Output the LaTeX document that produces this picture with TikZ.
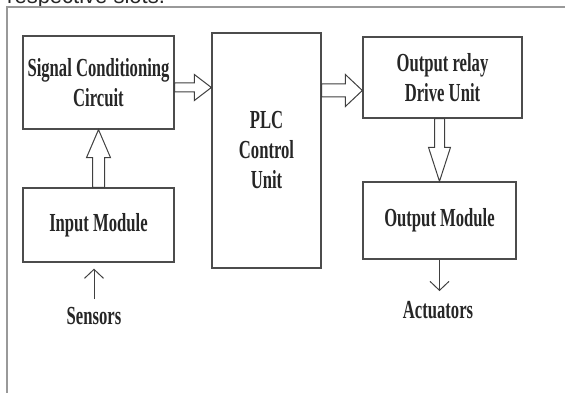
\documentclass[tikz,border=0pt]{standalone}
\usepackage{fontspec}
\setmainfont{Liberation Serif}
\newfontfamily\lblfont{Liberation Serif}[FakeStretch=0.64]
\newfontfamily\capfont{Liberation Sans}
\usetikzlibrary{arrows.meta,calc}

% hollow block arrows: start, tip, shaft half width, head half width, head length
\newcommand{\fatx}[5]{%
  \draw[fatarrow] let \p1=(#1), \p2=(#2) in
    (\x1,{\y2+#3}) -- ({\x2-#5},{\y2+#3}) -- ({\x2-#5},{\y2+#4}) -- (\x2,\y2)
    -- ({\x2-#5},{\y2-#4}) -- ({\x2-#5},{\y2-#3}) -- (\x1,{\y2-#3}) -- cycle;}
\newcommand{\faty}[5]{%
  \draw[fatarrow] let \p1=(#1), \p2=(#2) in
    ({\x2+#3},\y1) -- ({\x2+#3},{\y2-(#5)}) -- ({\x2+#4},{\y2-(#5)}) -- (\x2,\y2)
    -- ({\x2-#4},{\y2-(#5)}) -- ({\x2-#3},{\y2-(#5)}) -- ({\x2-#3},\y1) -- cycle;}

\begin{document}
\begin{tikzpicture}[x=1pt,y=-1pt,
  blk/.style={draw=black!70, line width=1.3pt, rectangle, align=center,
    font=\lblfont\bfseries\fontsize{26}{30}\selectfont, text=black!85},
  lbl/.style={inner sep=0pt, font=\lblfont\bfseries\fontsize{26}{30}\selectfont, text=black!85},
  fatarrow/.style={draw=black!75, fill=white, line width=1pt, line join=miter},
  thin/.style={draw=black!75, line width=1pt, -{Straight Barb[length=9pt,width=19pt]}}]
\useasboundingbox (0,0) rectangle (565,393);

% page edge and cut caption
\node[anchor=base west, inner sep=0pt, font=\capfont\fontsize{22}{26}\selectfont, text=black!85] (caption) at (7,4) {respective slots.};
\draw[black!40, line width=1.2pt] (7,393) -- (7,7) -- (565,7);

% blocks
\node[blk, minimum width=151pt, minimum height=93pt] (sig) at (98.5,82.5) {Signal Conditioning\\Circuit};
\node[blk, minimum width=151pt, minimum height=74pt] (inp) at (98.5,225) {Input Module};
\node[blk, minimum width=109pt, minimum height=235pt] (plc) at (266.5,150.5) {PLC\\Control\\Unit};
\node[blk, minimum width=159pt, minimum height=81pt] (relay) at (442.5,77.5) {Output relay\\Drive Unit};
\node[blk, minimum width=153pt, minimum height=77pt] (outm) at (439.5,220.5) {Output Module};
\node[lbl] (sensors) at (94,316) {Sensors};
\node[lbl] (act) at (438,310) {Actuators};

% connections
\coordinate (a1) at ($(sig.east)+(0,5)$);
\coordinate (a2) at ($(relay.west)+(0,13)$);
\fatx{a1}{a1 -| plc.west}{4.5pt}{13pt}{17pt}
\fatx{a2 -| plc.east}{a2}{6.5pt}{16pt}{17pt}
\faty{inp.north}{sig.south}{6pt}{12pt}{28pt}
\faty{relay.south}{outm.north}{5pt}{11pt}{-34pt}
\draw[thin, shorten <=8pt, shorten >=6pt] (sensors.north) -- (sensors.north |- inp.south);
\draw[thin, shorten >=10pt] (outm.south) -- (outm.south |- act.north);
\end{tikzpicture}
\end{document}
